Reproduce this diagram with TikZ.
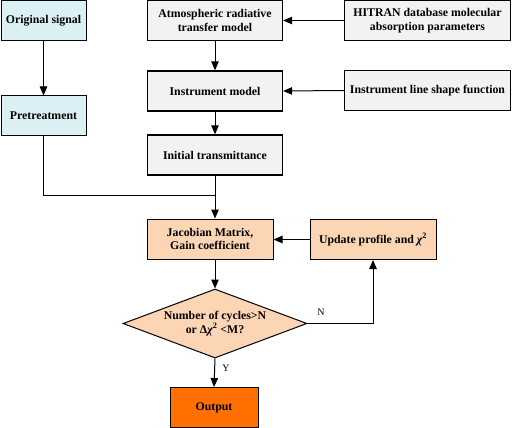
\documentclass[tikz,border=0pt]{standalone}
\usepackage{fontspec}
\setmainfont{Liberation Serif}
\usetikzlibrary{shapes.geometric,arrows.meta,calc}
\definecolor{bluefill}{RGB}{219,240,245}
\definecolor{grayfill}{RGB}{242,242,242}
\definecolor{peach}{RGB}{252,213,180}
\definecolor{outorange}{RGB}{255,112,0}
\tikzset{
  box/.style={draw=black, line width=1.3pt, rectangle, inner sep=2pt, align=center, font=\bfseries\fontsize{11.8}{13.5}\selectfont},
  bluebox/.style={box, fill=bluefill, line width=1pt},
  graybox/.style={box, fill=grayfill},
  peachbox/.style={box, fill=peach, line width=1pt},
  outbox/.style={box, fill=outorange, line width=1pt},
  conn/.style={line width=1pt, -{Triangle[length=9pt,width=7.5pt]}},
  plainconn/.style={line width=1pt},
  lbl/.style={font=\fontsize{10}{11}\selectfont}
}
\begin{document}
\begin{tikzpicture}[x=1pt,y=1pt]
\useasboundingbox (0,0) rectangle (512,-428);
\node[bluebox, minimum width=85pt, minimum height=40pt] (orig) at (43.5,-20.5) {Original signal};
\node[bluebox, minimum width=85pt, minimum height=40pt] (pre) at (43.5,-116) {Pretreatment};
\node[graybox, minimum width=135pt, minimum height=40pt] (atm) at (215,-20.5) {Atmospheric radiative\\transfer model};
\node[graybox, minimum width=135pt, minimum height=40pt] (inst) at (215,-91) {Instrument model};
\node[graybox, minimum width=135pt, minimum height=40pt] (init) at (215,-155) {Initial transmittance};
\node[graybox, minimum width=166pt, minimum height=40pt] (hit) at (427.5,-20.5) {HITRAN database molecular\\absorption parameters};
\node[graybox, minimum width=166pt, minimum height=40pt] (ils) at (427.5,-90.5) {Instrument line shape function};
\node[peachbox, minimum width=126pt, minimum height=40pt] (jac) at (210,-239) {Jacobian Matrix,\\Gain coefficient};
\node[peachbox, minimum width=126pt, minimum height=40pt] (upd) at (373,-239.5) {Update profile and {\itshape χ}\textsuperscript{2}};
\node[diamond, draw=black, fill=peach, line width=1pt, aspect=2.67, inner sep=0pt, minimum width=184pt, minimum height=69pt, align=center, font=\bfseries\fontsize{11.8}{13.5}\selectfont] (dia) at (215,-323.5) {Number of cycles>N\\or Δ{\itshape χ}\textsuperscript{2} <M?};
\node[outbox, minimum width=88pt, minimum height=40pt] (out) at (214,-407.5) {Output};
\coordinate (jn) at (215,-195);
\draw[conn] (orig.south) -- (pre.north);
\draw[conn] (hit.west) -- (atm.east);
\draw[conn] (ils.west) -- (inst.east);
\draw[conn] (atm.south) -- (inst.north);
\draw[conn] (inst.south) -- (init.north);
\draw[plainconn] (pre.south) |- (jn);
\draw[conn] (init.south) -- (init.south |- jac.north);
\draw[conn] (upd.west) -- (jac.east |- upd.west);
\draw[conn] (init.south |- jac.south) -- (dia.north);
\draw[conn] (dia.east) -| (upd.south);
\node[lbl] (nl) at (321,-312) {N};
\draw[conn] (dia.south) -- (out.north);
\node[lbl] (yl) at (226,-368) {Y};
\end{tikzpicture}
\end{document}
